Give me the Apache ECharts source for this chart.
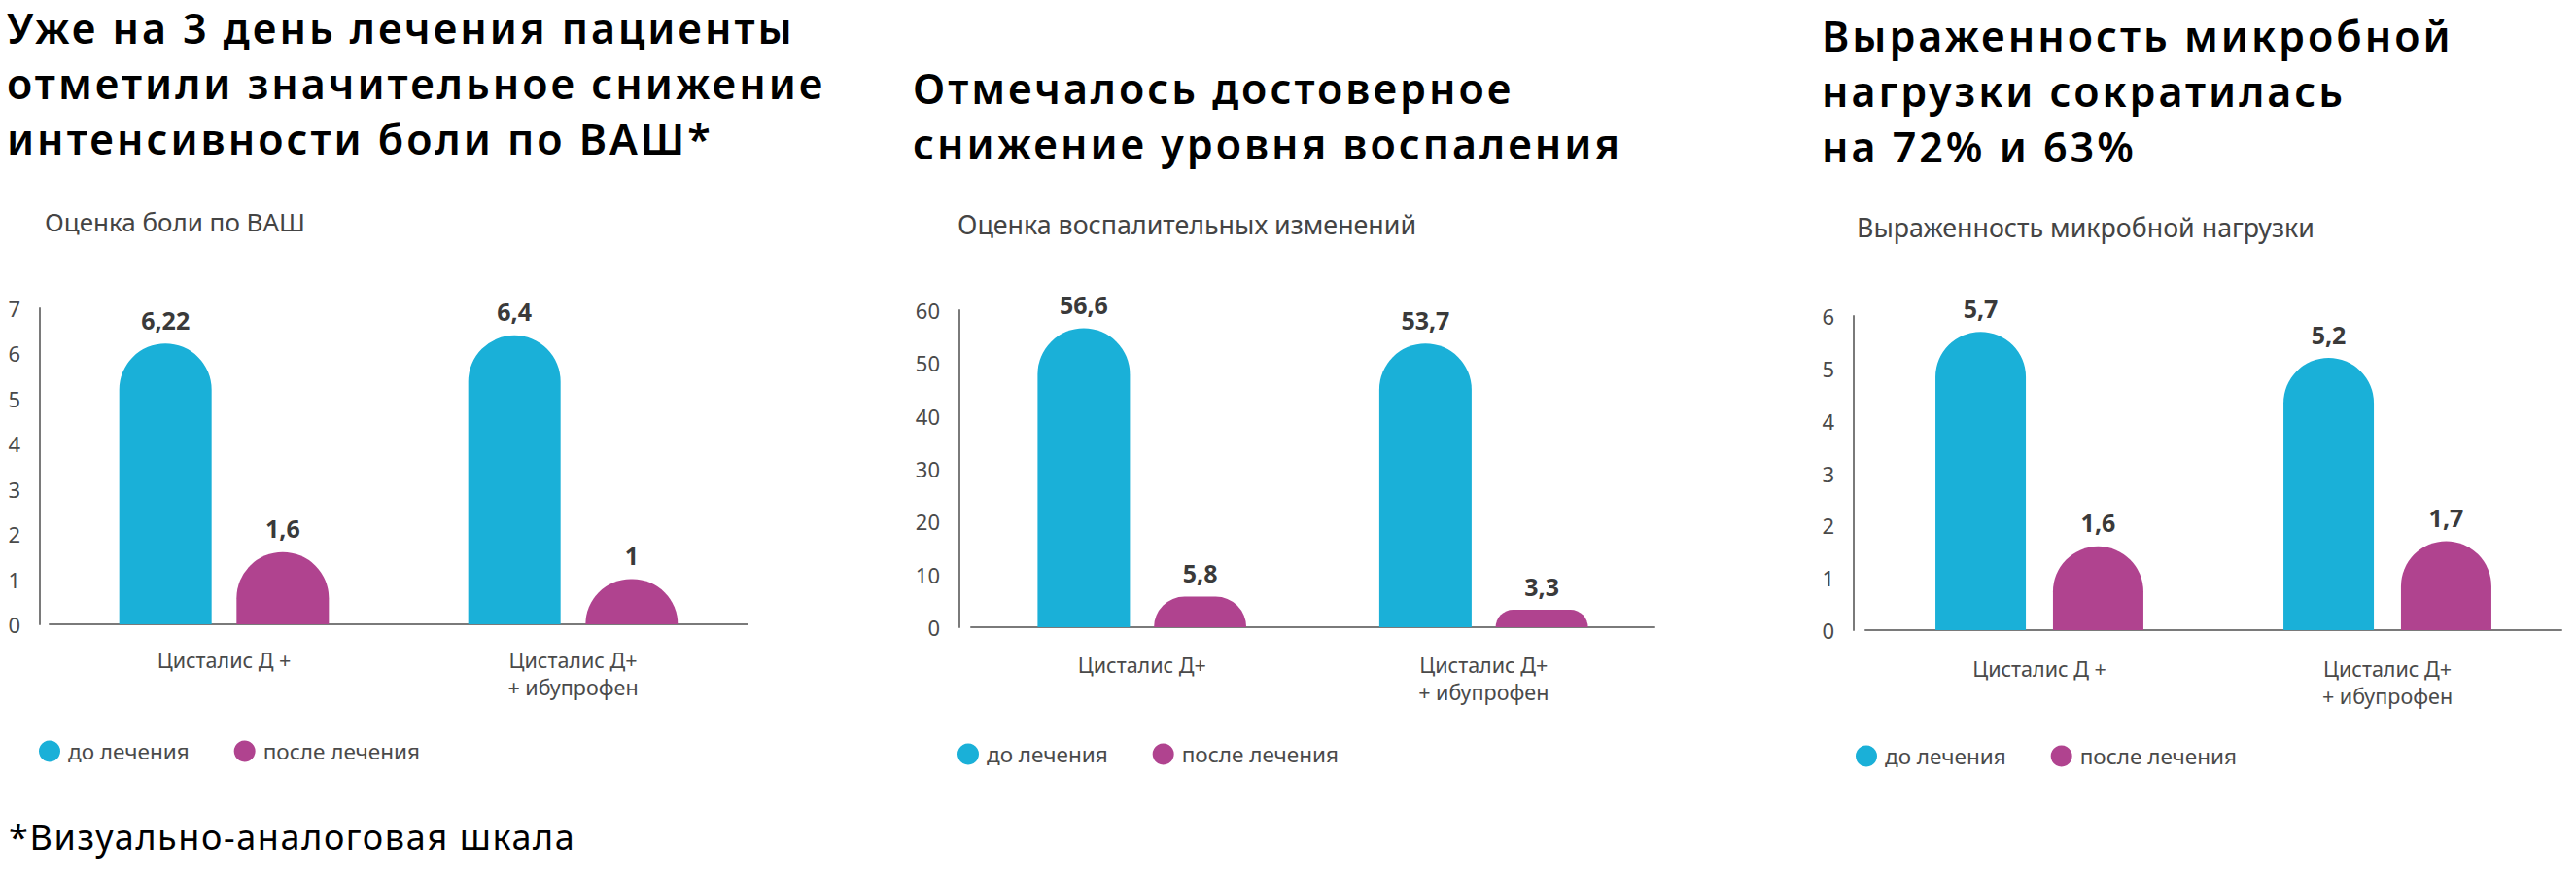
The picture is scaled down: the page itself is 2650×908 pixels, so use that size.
<!DOCTYPE html>
<html lang="ru">
<head>
<meta charset="utf-8">
<title>Цисталис Д</title>
<script src="https://cdn.jsdelivr.net/npm/echarts@6/dist/echarts.min.js"></script>
<style>
  html, body { margin: 0; padding: 0; background: #fff; }
  .page { position: relative; width: 2650px; height: 908px; overflow: hidden; }
  #chart { position: absolute; left: 0; top: 0; width: 2650px; height: 908px; }
  .heading {
    position: absolute;
    margin: 0;
    font-family: 'Noto Sans', sans-serif;
    font-weight: 600;
    font-size: 43px;
    line-height: 57px;
    letter-spacing: 3px;
    color: #000;
    white-space: nowrap;
  }
  .note {
    position: absolute;
    left: 9px;
    top: 839px;
    margin: 0;
    font-family: 'Noto Sans', sans-serif;
    font-size: 36px;
    line-height: 44px;
    letter-spacing: 1.6px;
    color: #000;
  }
</style>
</head>
<body>
<div class="page">
  <div id="chart"></div>
  <h2 class="heading" style="left: 7px; top: 0px;">Уже на 3 день лечения пациенты<br>отметили значительное снижение<br>интенсивности боли по ВАШ*</h2>
  <h2 class="heading" style="left: 939px; top: 62px;">Отмечалось достоверное<br>снижение уровня воспаления</h2>
  <h2 class="heading" style="left: 1874px; top: 8px;">Выраженность микробной<br>нагрузки сократилась<br>на 72% и 63%</h2>
  <p class="note">*Визуально-аналоговая шкала</p>
</div>

<script>
// данные
const seriesNames = ['до лечения', 'после лечения']

const painCategories = ['Цисталис Д +', 'Цисталис Д+\n+ ибупрофен']
const painBefore = [6.22, 6.4]
const painAfter = [1.6, 1]
const painTicks = [0, 7, 1] // min, max, шаг

const inflamCategories = ['Цисталис Д+', 'Цисталис Д+\n+ ибупрофен']
const inflamBefore = [56.6, 53.7]
const inflamAfter = [5.8, 3.3]
const inflamTicks = [0, 60, 10]

const microbeCategories = ['Цисталис Д +', 'Цисталис Д+\n+ ибупрофен']
const microbeBefore = [5.7, 5.2]
const microbeAfter = [1.6, 1.7]
const microbeTicks = [0, 6, 1]

const chartTitles = ['Оценка боли по ВАШ', 'Оценка воспалительных изменений', 'Выраженность микробной нагрузки']

const BLUE = '#1ab0d8'
const PURPLE = '#b0438f'
const AXIS = '#7a7a7a'
const LABEL = '#4a4a4a'
const FONT = "'Noto Sans', sans-serif"

const chart = echarts.init(document.getElementById('chart'), null, { renderer: 'svg' })

const panels = [
  { cats: painCategories, before: painBefore, after: painAfter, ticks: painTicks,
    grid: { left: 51, top: 317, width: 718, height: 325 }, yOffset: 10, barWidth: 95, barGap: '27%', labelMargin: 22,
    title: { left: 46, top: 213, size: 26 }, legend: { left: 40, top: 761 } },
  { cats: inflamCategories, before: inflamBefore, after: inflamAfter, ticks: inflamTicks,
    grid: { left: 999, top: 319, width: 703, height: 326 }, yOffset: 12, barWidth: 95, barGap: '26%', labelMargin: 24,
    title: { left: 985, top: 215, size: 26.8 }, legend: { left: 985, top: 764 } },
  { cats: microbeCategories, before: microbeBefore, after: microbeAfter, ticks: microbeTicks,
    grid: { left: 1919, top: 325, width: 716, height: 323 }, yOffset: 12, barWidth: 93, barGap: '30%', labelMargin: 25,
    title: { left: 1910, top: 218, size: 26.8 }, legend: { left: 1909, top: 766 } }
]

const valueLabel = {
  show: true,
  position: 'top',
  distance: 12,
  fontFamily: FONT,
  fontSize: 25,
  fontWeight: 'bold',
  color: '#3a3a3a',
  formatter: (p) => String(p.value).replace('.', ',')
}

const option = {
  animation: false,
  title: panels.map((p, i) => ({
    text: chartTitles[i],
    left: p.title.left,
    top: p.title.top,
    padding: 0,
    textStyle: { fontFamily: FONT, fontSize: p.title.size, fontWeight: 'normal', color: '#444', lineHeight: 30 }
  })),
  legend: panels.map((p) => ({
    data: seriesNames,
    left: p.legend.left,
    top: p.legend.top,
    padding: 0,
    icon: 'circle',
    itemWidth: 22,
    itemHeight: 22,
    itemGap: 46,
    textStyle: { fontFamily: FONT, fontSize: 22.5, color: LABEL, padding: [0, 0, 0, 3] }
  })),
  grid: panels.map((p) => ({ ...p.grid, containLabel: false })),
  xAxis: panels.map((p, i) => ({
    type: 'category',
    gridIndex: i,
    data: p.cats,
    axisLine: { lineStyle: { color: AXIS, width: 2 } },
    axisTick: { show: false },
    axisLabel: { fontFamily: FONT, fontSize: 21.5, color: LABEL, lineHeight: 28, margin: p.labelMargin }
  })),
  yAxis: panels.map((p, i) => ({
    type: 'value',
    gridIndex: i,
    min: p.ticks[0],
    max: p.ticks[1],
    interval: p.ticks[2],
    offset: p.yOffset,
    axisLine: { show: true, lineStyle: { color: AXIS, width: 2 } },
    axisTick: { show: false },
    splitLine: { show: false },
    axisLabel: { fontFamily: FONT, fontSize: 22, color: LABEL, margin: 20 }
  })),
  series: panels.flatMap((p, i) => [
    {
      name: seriesNames[0],
      type: 'bar',
      xAxisIndex: i,
      yAxisIndex: i,
      data: p.before,
      barWidth: p.barWidth,
      barGap: p.barGap,
      itemStyle: { color: BLUE, borderRadius: [p.barWidth / 2, p.barWidth / 2, 0, 0] },
      label: valueLabel
    },
    {
      name: seriesNames[1],
      type: 'bar',
      xAxisIndex: i,
      yAxisIndex: i,
      data: p.after,
      barWidth: p.barWidth,
      barGap: p.barGap,
      itemStyle: { color: PURPLE, borderRadius: [p.barWidth / 2, p.barWidth / 2, 0, 0] },
      label: valueLabel
    }
  ])
}

chart.setOption(option)
</script>
</body>
</html>
